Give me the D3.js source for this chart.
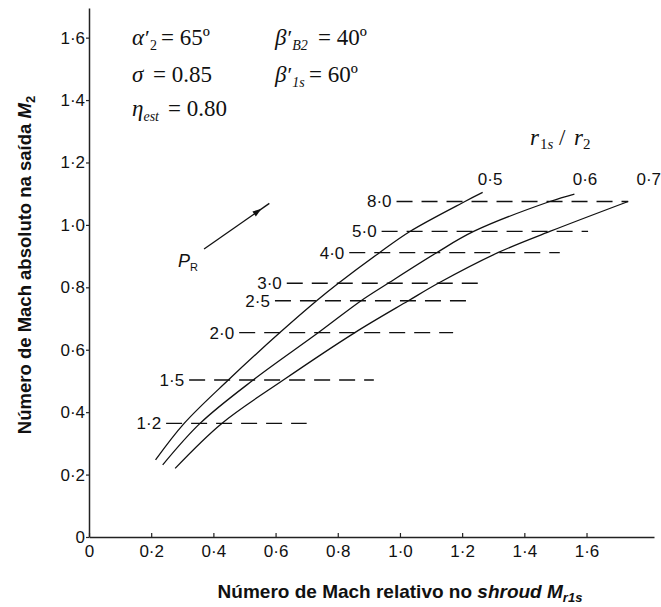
<!DOCTYPE html>
<meta charset="utf-8">
<script src="https://d3js.org/d3.v7.min.js"></script>
<style>
  body { margin: 0; background: #fff; }
</style>
<div id="my_dataviz"></div>
<script>
// curves r1s/r2 : relative Mach at shroud (x) vs absolute exit Mach (y)
var curveNames = ["0·5", "0·6", "0·7"];
var curveX05 = [0.214, 0.306, 0.448, 0.614, 0.732, 0.802, 0.934, 1.032, 1.209, 1.266];
var curveY05 = [0.247, 0.364, 0.503, 0.655, 0.757, 0.813, 0.911, 0.979, 1.075, 1.104];
var curveX06 = [0.237, 0.357, 0.528, 0.738, 0.875, 0.962, 1.118, 1.237, 1.482, 1.561];
var curveY06 = [0.231, 0.364, 0.503, 0.655, 0.757, 0.813, 0.911, 0.979, 1.075, 1.099];
var curveX07 = [0.277, 0.427, 0.625, 0.855, 1.027, 1.123, 1.315, 1.482, 1.734];
var curveY07 = [0.220, 0.364, 0.503, 0.655, 0.757, 0.813, 0.911, 0.979, 1.075];

// pressure ratio P_R (dashed lines)
var prLabels = ["1·2", "1·5", "2·0", "2·5", "3·0", "4·0", "5·0", "8·0"];
var prLevel  = [0.364, 0.503, 0.655, 0.757, 0.813, 0.911, 0.979, 1.075];
var prStart  = [0.248, 0.322, 0.483, 0.598, 0.636, 0.837, 0.941, 0.989];
var prEnd    = [0.700, 0.916, 1.171, 1.220, 1.273, 1.514, 1.605, 1.734];

// tick values
var xTicks = [0, 0.2, 0.4, 0.6, 0.8, 1.0, 1.2, 1.4, 1.6];
var yTicks = [0, 0.2, 0.4, 0.6, 0.8, 1.0, 1.2, 1.4, 1.6];

var sans = "'Liberation Sans', Arial, Helvetica, sans-serif";
var serif = "'Liberation Serif', 'Times New Roman', serif";

var margin = {top: 8, right: 7, bottom: 70, left: 89},
    width = 661 - margin.left - margin.right,
    height = 607 - margin.top - margin.bottom;

var root = d3.select("#my_dataviz")
  .append("svg")
    .attr("width", 661)
    .attr("height", 607);
var svg = root.append("g")
    .attr("transform", "translate(" + margin.left + "," + margin.top + ")");

var x = d3.scaleLinear().domain([0, 1.817]).range([0, width]);
var y = d3.scaleLinear().domain([0, 1.695]).range([height, 0]);

function fmt(d) { return d === 0 ? "0" : d.toFixed(1).replace(".", "·"); }

// axes
var xAxis = svg.append("g")
  .attr("transform", "translate(0," + height + ")")
  .call(d3.axisBottom(x).tickValues(xTicks).tickFormat(fmt)
    .tickSizeInner(-4).tickSizeOuter(0).tickPadding(8));
var yAxis = svg.append("g")
  .call(d3.axisLeft(y).tickValues(yTicks).tickFormat(fmt)
    .tickSizeInner(3).tickSizeOuter(0).tickPadding(1));

[xAxis, yAxis].forEach(function(a) {
  a.attr("font-family", sans).attr("font-size", 17);
  a.select(".domain").attr("stroke", "#222").attr("stroke-width", 1.5);
  a.selectAll(".tick line").attr("stroke", "#222").attr("stroke-width", 1.2);
  a.selectAll(".tick text").attr("fill", "#111");
});

// dashed P_R lines
prLabels.forEach(function(lab, i) {
  svg.append("line")
    .attr("x1", x(prStart[i])).attr("x2", x(prEnd[i]))
    .attr("y1", y(prLevel[i])).attr("y2", y(prLevel[i]))
    .attr("stroke", "#111")
    .attr("stroke-width", 1.3)
    .attr("stroke-dasharray", "16,9");
  svg.append("text")
    .attr("x", x(prStart[i]) - 5)
    .attr("y", y(prLevel[i]))
    .attr("dy", "0.35em")
    .attr("text-anchor", "end")
    .attr("font-family", sans)
    .attr("font-size", 17)
    .attr("fill", "#111")
    .text(lab);
});

// r1s/r2 curves
var curves = [[curveX05, curveY05], [curveX06, curveY06], [curveX07, curveY07]];
var line = d3.line()
  .x(function(d) { return x(d[0]); })
  .y(function(d) { return y(d[1]); })
  .curve(d3.curveCatmullRom.alpha(0.5));

curves.forEach(function(c) {
  svg.append("path")
    .datum(d3.zip(c[0], c[1]))
    .attr("d", line)
    .attr("fill", "none")
    .attr("stroke", "#111")
    .attr("stroke-width", 1.3);
});

// curve labels
var ratioLabelX = [1.290, 1.595, 1.800];
curveNames.forEach(function(n, i) {
  svg.append("text")
    .attr("x", x(ratioLabelX[i]))
    .attr("y", y(1.128))
    .attr("text-anchor", "middle")
    .attr("font-family", sans)
    .attr("font-size", 17)
    .attr("fill", "#111")
    .text(n);
});

// r1s / r2 heading (absolute page pixels)
var rt = root.append("text")
  .attr("y", 145)
  .attr("font-family", serif).attr("font-size", 23).attr("fill", "#111");
rt.append("tspan").attr("x", 530).attr("font-style", "italic").text("r");
rt.append("tspan").attr("x", 540).attr("font-size", 15).attr("dy", 4).text("1");
rt.append("tspan").attr("font-size", 15).attr("font-style", "italic").text("s");
rt.append("tspan").attr("x", 559).attr("dy", -4).text("/");
rt.append("tspan").attr("x", 574).attr("font-style", "italic").text("r");
rt.append("tspan").attr("font-size", 15).attr("dy", 4).text("2");

// P_R arrow
var a0 = [0.370, 0.923], a1 = [0.580, 1.069];
svg.append("line")
  .attr("x1", x(a0[0])).attr("y1", y(a0[1]))
  .attr("x2", x(a1[0])).attr("y2", y(a1[1]))
  .attr("stroke", "#111").attr("stroke-width", 1.3);
var ang = Math.atan2(y(a1[1]) - y(a0[1]), x(a1[0]) - x(a0[0]));
var tipX = x(a0[0]) + 0.88 * (x(a1[0]) - x(a0[0]));
var tipY = y(a0[1]) + 0.88 * (y(a1[1]) - y(a0[1]));
svg.append("path")
  .attr("d", "M0,0L-9,-3L-9,3Z")
  .attr("transform", "translate(" + tipX + "," + tipY + ") rotate(" + (ang * 180 / Math.PI) + ")")
  .attr("fill", "#111");
var pr = svg.append("text")
  .attr("x", x(a0[0]) - 26).attr("y", y(a0[1]) + 18)
  .attr("font-family", sans).attr("font-size", 18).attr("fill", "#111");
pr.append("tspan").attr("font-style", "italic").text("P");
pr.append("tspan").attr("font-size", 11).attr("dy", 4).text("R");

// parameter block (top left, absolute page pixels)
function sym(px, py, main, sup, sub, subItalic) {
  var t = root.append("text")
    .attr("x", px).attr("y", py)
    .attr("font-family", serif).attr("font-size", 23).attr("fill", "#111");
  t.append("tspan").attr("font-style", "italic").text(main);
  if (sup) t.append("tspan").attr("font-size", 22).attr("dx", 1).text(sup);
  if (sub) {
    var s = t.append("tspan").attr("font-size", 14).attr("dy", 5).text(sub);
    if (subItalic) s.attr("font-style", "italic");
  }
}
function val(px, py, s) {
  root.append("text")
    .attr("x", px).attr("y", py)
    .attr("font-family", serif).attr("font-size", 23).attr("fill", "#111")
    .text(s);
}
sym(132, 45, "α", "′", "2", false);
val(161, 45, "= 65º");
sym(132, 82, "σ", null, null);
val(153, 82, "= 0.85");
sym(132, 116, "η", null, "est", true);
val(168, 116, "= 0.80");
sym(275, 45, "β", "′", "B2", true);
val(318, 45, "= 40º");
sym(275, 82, "β", "′", "1s", true);
val(309, 82, "= 60º");

// axis titles
var xt = root.append("text")
  .attr("x", 400).attr("y", 598)
  .attr("text-anchor", "middle")
  .attr("font-family", sans).attr("font-size", 19).attr("font-weight", "bold").attr("fill", "#111");
xt.append("tspan").text("Número de Mach relativo no ");
xt.append("tspan").attr("font-style", "italic").text("shroud M");
xt.append("tspan").attr("font-style", "italic").attr("font-size", 13).attr("dy", 4).text("r1s");

var yt = root.append("text")
  .attr("transform", "translate(31,265) rotate(-90)")
  .attr("text-anchor", "middle")
  .attr("font-family", sans).attr("font-size", 18.5).attr("font-weight", "bold").attr("fill", "#111");
yt.append("tspan").text("Número de Mach absoluto na saída ");
yt.append("tspan").attr("font-style", "italic").text("M");
yt.append("tspan").attr("font-size", 13).attr("dy", 4).text("2");
</script>
